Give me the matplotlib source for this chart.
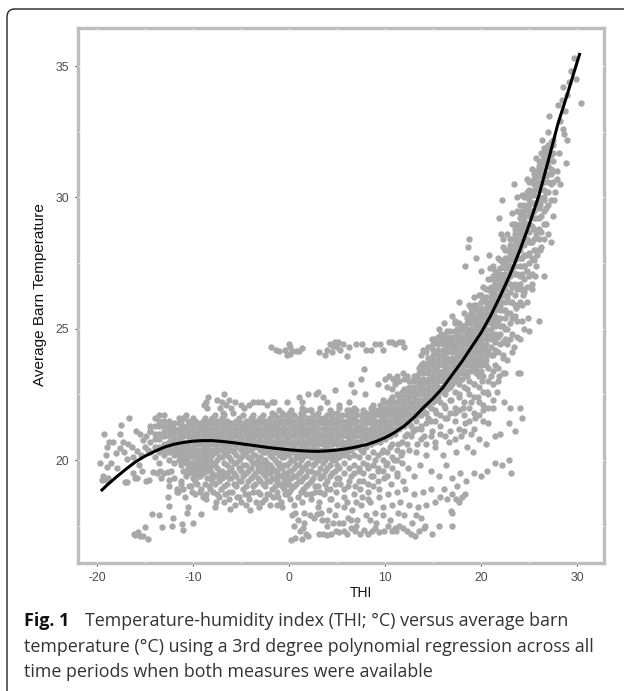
import matplotlib
matplotlib.use("Agg")
import matplotlib.pyplot as plt
from matplotlib.patches import FancyBboxPatch

W, H = 624, 691
POINT_COLOR = "#a8a8a8"
FRAME_COLOR = "#bdbdbd"

# THI column -> barn temperatures, dense band of the cloud
band_thi = [-14.5, -14, -13.5, -13, -12.5, -12, -11.5, -11, -10.5, -10, -9.5, -9, -8.5, -8, -7.5, -7, -6.5, -6,
            -5.5, -5, -4.5, -4, -3.5, -3, -2.5, -2, -1.5, -1, -0.5, 0, 0.5, 1, 1.5, 2, 2.5, 3, 3.5, 4, 4.5, 5]
band_temp = [
    [20.3, 20.7, 21.1, 21.3],
    [20.1, 20.5, 20.8, 21.0, 21.3, 21.6],
    [19.9, 20.3, 20.5, 20.8, 21.0, 21.3, 21.5, 21.7],
    [20.2, 20.4, 20.6, 20.9, 21.1, 21.3, 21.5, 21.7],
    [20.0, 20.3, 20.5, 20.7, 20.9, 21.1, 21.3, 21.5],
    [19.9, 20.2, 20.4, 20.6, 20.8, 21.0, 21.2, 21.4],
    [20.0, 20.2, 20.4, 20.6, 20.8, 21.0, 21.2, 21.4, 21.6],
    [19.6, 19.9, 20.1, 20.3, 20.5, 20.7, 20.9, 21.1, 21.3, 21.6],
    [19.5, 19.7, 19.9, 20.1, 20.3, 20.5, 20.7, 20.9, 21.1, 21.3, 21.5],
    [19.3, 19.5, 19.7, 19.9, 20.1, 20.3, 20.5, 20.7, 20.9, 21.1, 21.3, 21.6],
    [19.4, 19.6, 19.8, 20.0, 20.2, 20.4, 20.6, 20.8, 21.0, 21.2, 21.4],
    [19.5, 19.7, 19.9, 20.1, 20.3, 20.5, 20.7, 20.9, 21.1, 21.3, 21.5],
    [19.3, 19.6, 19.8, 20.1, 20.3, 20.5, 20.7, 20.9, 21.1, 21.3, 21.5],
    [19.2, 19.5, 19.9, 20.2, 20.4, 20.6, 20.8, 21.0, 21.2, 21.4, 21.6],
    [19.4, 19.7, 20.0, 20.3, 20.5, 20.7, 20.9, 21.1, 21.3, 21.5],
    [19.3, 19.6, 20.1, 20.4, 20.6, 20.8, 21.0, 21.2, 21.4, 21.6],
    [19.1, 19.5, 19.8, 20.3, 20.5, 20.7, 20.9, 21.1, 21.3, 21.5],
    [19.3, 19.7, 20.0, 20.4, 20.6, 20.8, 21.0, 21.2, 21.4],
    [19.0, 19.4, 19.9, 20.2, 20.5, 20.7, 20.9, 21.1, 21.3, 21.5],
    [19.2, 19.6, 20.1, 20.4, 20.6, 20.8, 21.0, 21.2, 21.4],
    [19.0, 19.5, 19.8, 20.3, 20.5, 20.7, 20.9, 21.1, 21.3, 21.5],
    [19.3, 19.7, 20.0, 20.4, 20.6, 20.8, 21.0, 21.2, 21.4, 21.6],
    [19.1, 19.5, 19.9, 20.2, 20.5, 20.7, 20.9, 21.1, 21.3, 21.5],
    [19.2, 19.6, 19.8, 20.1, 20.4, 20.6, 20.8, 21.0, 21.2, 21.4, 21.6],
    [19.0, 19.4, 19.7, 20.0, 20.3, 20.5, 20.7, 20.9, 21.1, 21.3, 21.5],
    [19.2, 19.5, 19.8, 20.2, 20.4, 20.6, 20.8, 21.0, 21.2, 21.4, 21.6],
    [19.0, 19.3, 19.6, 20.0, 20.3, 20.5, 20.7, 20.9, 21.1, 21.3, 21.5, 21.7],
    [19.1, 19.4, 19.7, 19.9, 20.2, 20.4, 20.6, 20.8, 21.0, 21.2, 21.4, 21.6],
    [18.9, 19.2, 19.5, 19.8, 20.1, 20.3, 20.5, 20.7, 20.9, 21.1, 21.3, 21.5, 21.7],
    [18.8, 19.1, 19.3, 19.6, 19.9, 20.2, 20.4, 20.6, 20.8, 21.0, 21.2, 21.4, 21.6, 21.8],
    [19.0, 19.4, 19.7, 20.0, 20.3, 20.5, 20.7, 20.9, 21.1, 21.3, 21.5, 21.7],
    [19.2, 19.5, 19.8, 20.2, 20.4, 20.6, 20.8, 21.0, 21.2, 21.4, 21.6],
    [18.9, 19.3, 19.7, 20.1, 20.3, 20.5, 20.7, 20.9, 21.1, 21.3, 21.5, 21.7],
    [19.1, 19.6, 19.9, 20.2, 20.4, 20.6, 20.8, 21.0, 21.2, 21.4, 21.6],
    [19.3, 19.8, 20.1, 20.3, 20.5, 20.7, 20.9, 21.1, 21.3, 21.5, 21.7],
    [19.0, 19.5, 20.0, 20.2, 20.4, 20.6, 20.8, 21.0, 21.2, 21.4, 21.6, 21.8],
    [19.4, 19.9, 20.2, 20.4, 20.6, 20.8, 21.0, 21.2, 21.4, 21.6],
    [19.2, 19.7, 20.1, 20.3, 20.5, 20.7, 20.9, 21.1, 21.3, 21.5, 21.7],
    [19.5, 20.0, 20.2, 20.4, 20.6, 20.8, 21.0, 21.2, 21.4, 21.6, 21.8],
    [19.3, 19.8, 20.2, 20.4, 20.6, 20.8, 21.0, 21.2, 21.4, 21.6, 21.8],
]

# staggered columns filling the lower part of the band
fill_thi = [-11.25, -10.75, -10.25, -9.75, -9.25, -8.75, -8.25, -7.75, -7.25, -6.75, -6.25, -5.75, -5.25, -4.75, -4.25, -3.75,
            -3.25, -2.75, -2.25, -1.75, -1.25, -0.75, -0.25, 0.25, 0.75, 1.25, 1.75, 2.25, 2.75, 3.25, 3.75, 4.25, 4.75,
            5.25, 5.75, 6.25, 6.75, 7.25, 7.75, 8.25, 8.75, 9.25, 9.75, 10.25, 10.75, 11.25, 11.75]
fill_temp = [
    [19.1, 19.8, 20.2, 21.5], [19.4, 20.0, 20.4, 21.7], [19.0, 19.6, 19.9, 20.3], [19.2, 19.5, 19.8, 20.2, 21.5],
    [18.8, 19.4, 19.7, 20.1], [19.1, 19.6, 20.0, 20.3, 21.6], [18.9, 19.3, 19.7, 20.0], [19.1, 19.4, 19.8, 20.3, 21.7],
    [18.6, 19.2, 19.5, 20.1], [19.0, 19.4, 19.9, 20.2, 21.7], [18.8, 19.3, 19.6, 20.1], [19.1, 19.5, 19.9, 20.3],
    [18.6, 19.2, 19.7, 20.0, 21.6], [18.9, 19.4, 19.8, 20.2], [18.7, 19.2, 19.6, 20.1], [19.0, 19.4, 19.9, 20.2, 21.7],
    [18.8, 19.3, 19.7, 20.0], [19.1, 19.5, 19.9, 20.3, 21.7], [18.7, 19.2, 19.6, 19.9], [18.9, 19.3, 19.7, 20.1, 21.8],
    [18.8, 19.2, 19.5, 19.9], [19.0, 19.4, 19.7, 20.1, 21.8], [18.7, 19.1, 19.4, 19.8], [18.9, 19.3, 19.6, 20.0, 21.9],
    [19.1, 19.4, 19.8, 20.1], [18.8, 19.2, 19.6, 20.0, 21.8], [19.0, 19.4, 19.8, 20.2], [18.7, 19.2, 19.6, 20.1, 21.9],
    [19.0, 19.5, 19.9, 20.2], [18.8, 19.3, 19.7, 20.1, 22.0], [19.1, 19.6, 20.0, 20.3], [18.9, 19.4, 19.8, 20.2, 21.9],
    [19.1, 19.6, 20.0, 20.3], [19.3, 19.7, 20.1, 22.0], [18.9, 19.5, 19.9, 20.2], [19.2, 19.7, 20.1, 21.9],
    [19.5, 19.8, 20.2, 22.0], [19.2, 19.7, 20.1], [19.5, 19.9, 20.3, 21.9], [19.1, 19.7, 20.1], [19.4, 19.8, 20.3, 22.1],
    [19.2, 19.7, 20.2], [19.6, 20.0, 20.4, 22.3], [19.4, 19.9, 20.3], [19.7, 20.1, 20.6, 22.4], [19.5, 20.0, 20.4, 22.5],
    [19.9, 20.3, 20.7, 22.6],
]

# staggered columns across the solid upper part of the band, so that no lattice shows
solid_thi = [-12.75, -12.25, -11.75, -10.75, -10.25, -9.75, -9.25, -8.75, -8.25, -7.75, -7.25, -6.75, -6.25, -5.75, -5.25, -4.75,
             -4.25, -3.75, -3.25, -2.75, -2.25, -1.75, -1.25, -0.75, -0.25, 0.25, 0.75, 1.25, 1.75, 2.25, 2.75, 3.25, 3.75,
             4.25, 4.75, 5.25, 5.75, 6.25, 6.75, 7.25, 7.75, 8.25, 8.75, 9.25, 9.75, 10.25, 10.75, 11.25, 11.75]
solid_temp = [
    [20.6, 21.2], [20.7, 21.3], [20.5, 21.1], [20.6, 21.2], [20.8, 21.4], [20.6, 21.0], [20.7, 21.3], [20.5, 21.1],
    [20.8, 21.4], [20.6, 21.2], [20.7, 21.1], [20.5, 21.3], [20.8, 21.2], [20.6, 21.4], [20.7, 21.1], [20.5, 21.3],
    [20.8, 21.2], [20.6, 21.0], [20.7, 21.4], [20.5, 21.1], [20.8, 21.3], [20.6, 21.2], [20.7, 21.4], [20.5, 21.1],
    [20.8, 21.5], [20.6, 21.2], [20.7, 21.4], [20.9, 21.3], [20.6, 21.1], [20.8, 21.5], [20.7, 21.2], [20.9, 21.4],
    [20.6, 21.1], [20.8, 21.5], [20.7, 21.3], [20.9, 21.5], [20.6, 21.2], [20.8, 21.4], [21.0, 21.6], [20.7, 21.2],
    [20.9, 21.5], [21.1, 21.6], [20.9, 21.3], [21.2, 21.8], [21.0, 21.6], [21.3, 21.9], [21.1, 21.7], [21.4, 22.0],
    [21.6, 22.1],
]

# rising part of the cloud, THI 5.5 to 27.5
rise_thi = [5.5, 6, 6.5, 7, 7.5, 8, 8.5, 9, 9.5, 10, 10.5, 11, 11.5, 12, 12.5, 13, 13.5, 14, 14.5, 15, 15.5, 16, 16.5,
            17, 17.5, 18, 18.5, 19, 19.5, 20, 20.5, 21, 21.5, 22, 22.5, 23, 23.5, 24, 24.5, 25, 25.5, 26, 26.5, 27, 27.5]
rise_temp = [
    [20.3, 20.5, 20.7, 20.9, 21.1, 21.3, 21.5, 21.7],
    [20.3, 20.5, 20.7, 20.9, 21.1, 21.3, 21.5, 21.7, 21.9],
    [20.4, 20.6, 20.8, 21.0, 21.2, 21.4, 21.6, 21.8],
    [20.5, 20.7, 20.9, 21.1, 21.3, 21.5, 21.7, 21.9],
    [20.4, 20.7, 20.9, 21.1, 21.3, 21.5, 21.7],
    [20.5, 20.8, 21.0, 21.2, 21.4, 21.6, 21.8],
    [20.6, 20.8, 21.0, 21.2, 21.4, 21.6, 21.8, 22.0],
    [20.7, 20.9, 21.1, 21.3, 21.5, 21.7, 21.9],
    [20.7, 20.9, 21.1, 21.3, 21.5, 21.7, 21.9, 22.1],
    [20.8, 21.0, 21.2, 21.4, 21.6, 21.8, 22.0, 22.2],
    [20.9, 21.1, 21.3, 21.5, 21.7, 21.9, 22.1, 22.3],
    [21.0, 21.2, 21.4, 21.6, 21.8, 22.0, 22.2, 22.9, 23.1],
    [21.2, 21.4, 21.6, 21.8, 22.0, 22.2, 22.4, 23.0],
    [21.3, 21.5, 21.7, 21.9, 22.1, 22.3, 22.5, 22.7, 23.1],
    [21.4, 21.6, 21.8, 22.0, 22.2, 22.4, 22.6, 22.8, 23.0],
    [21.6, 21.8, 22.0, 22.2, 22.4, 22.6, 22.8, 23.0, 23.2],
    [21.7, 21.9, 22.1, 22.3, 22.5, 22.7, 22.9, 23.1, 23.3, 23.5],
    [21.9, 22.1, 22.3, 22.5, 22.7, 22.9, 23.1, 23.3, 23.5, 23.7, 24.2],
    [22.1, 22.3, 22.5, 22.7, 22.9, 23.1, 23.3, 23.5, 23.7, 23.9, 24.3],
    [22.2, 22.4, 22.6, 22.8, 23.0, 23.2, 23.4, 23.6, 23.8, 24.0, 24.2, 24.4],
    [22.4, 22.6, 22.8, 23.0, 23.2, 23.4, 23.6, 23.8, 24.0, 24.2, 24.4],
    [22.6, 22.8, 23.0, 23.2, 23.4, 23.6, 23.8, 24.0, 24.2, 24.4, 24.6],
    [22.7, 22.9, 23.1, 23.3, 23.5, 23.7, 23.9, 24.1, 24.3, 24.5, 24.7],
    [22.9, 23.1, 23.3, 23.5, 23.7, 23.9, 24.1, 24.3, 24.5, 24.7],
    [23.0, 23.2, 23.4, 23.6, 23.8, 24.0, 24.2, 24.4, 24.6, 24.8, 25.0],
    [23.1, 23.3, 23.5, 23.7, 23.9, 24.1, 24.3, 24.5, 24.7, 24.9, 25.1],
    [23.2, 23.4, 23.6, 23.8, 24.0, 24.2, 24.4, 24.6, 24.8, 25.0, 25.2, 25.4],
    [23.4, 23.6, 23.8, 24.0, 24.2, 24.4, 24.6, 24.8, 25.0, 25.2, 25.4, 25.6, 25.8],
    [23.3, 23.5, 23.7, 23.9, 24.1, 24.3, 24.5, 24.7, 24.9, 25.1, 25.3, 25.5, 25.7, 25.9],
    [23.4, 23.6, 23.8, 24.0, 24.2, 24.4, 24.6, 24.8, 25.0, 25.2, 25.4, 25.6, 25.8, 26.0, 26.3],
    [23.6, 23.8, 24.0, 24.2, 24.4, 24.6, 24.8, 25.0, 25.2, 25.4, 25.6, 25.8, 26.0, 26.2, 26.5],
    [24.0, 24.3, 24.6, 24.8, 25.0, 25.2, 25.4, 25.6, 25.8, 26.0, 26.2, 26.4, 26.6, 26.9],
    [24.2, 24.5, 24.8, 25.1, 25.3, 25.5, 25.7, 25.9, 26.1, 26.3, 26.5, 26.7, 26.9, 27.2],
    [24.4, 24.8, 25.1, 25.4, 25.7, 25.9, 26.1, 26.3, 26.5, 26.7, 26.9, 27.1, 27.3, 27.6],
    [24.6, 25.0, 25.4, 25.7, 26.0, 26.3, 26.5, 26.7, 26.9, 27.1, 27.3, 27.5, 27.7, 28.0],
    [25.2, 25.6, 26.0, 26.4, 26.7, 27.0, 27.2, 27.4, 27.6, 27.8, 28.0, 28.2, 28.4],
    [25.5, 25.9, 26.3, 26.7, 27.1, 27.4, 27.6, 27.8, 28.0, 28.2, 28.4, 28.6, 28.8, 29.0],
    [26.0, 26.5, 27.0, 27.4, 27.7, 28.0, 28.2, 28.4, 28.6, 28.8, 29.0, 29.2, 29.4, 29.7],
    [26.4, 26.9, 27.4, 27.8, 28.2, 28.5, 28.7, 28.9, 29.1, 29.3, 29.5, 29.7, 30.0],
    [27.0, 27.5, 27.9, 28.3, 28.7, 29.0, 29.3, 29.5, 29.7, 29.9, 30.1, 30.3, 30.6],
    [27.6, 28.0, 28.4, 28.8, 29.2, 29.5, 29.8, 30.1, 30.3, 30.5, 30.7, 30.9],
    [28.4, 28.8, 29.2, 29.6, 30.0, 30.3, 30.6, 30.8, 31.0, 31.2, 31.4],
    [29.0, 29.5, 29.9, 30.3, 30.6, 30.9, 31.1, 31.3, 31.5, 31.7, 31.9],
    [29.7, 30.2, 30.6, 30.9, 31.2, 31.4, 31.6, 31.8, 32.0],
    [30.6, 31.0, 31.4, 31.7, 32.0, 32.2],
]

# staggered columns that widen the rising part
rise_fill_thi = [12.25, 12.75, 13.25, 13.75, 14.25, 14.75, 15.25, 15.75, 16.25, 16.75, 17.25, 17.75, 18.25, 18.75, 19.25, 19.75,
                 20.25, 20.75, 21.25, 21.75, 22.25, 22.75, 23.25, 23.75, 24.25, 24.75, 25.25, 25.75, 26.25, 26.75, 27.25]
rise_fill_temp = [
    [20.6, 21.0, 21.4, 21.9, 22.4, 23.2], [20.9, 21.3, 21.7, 22.1, 22.6, 23.0], [20.3, 21.2, 21.5, 22.0, 22.5, 23.2],
    [20.8, 21.2, 21.7, 22.2, 22.8, 23.6, 24.0], [20.6, 21.4, 21.8, 22.4, 23.0, 23.6, 24.1],
    [20.9, 21.5, 22.0, 22.5, 23.1, 23.7, 24.3], [20.7, 21.5, 21.9, 22.3, 22.9, 23.5, 24.1, 24.6],
    [21.0, 21.7, 22.2, 22.7, 23.3, 23.9, 24.5], [20.9, 21.6, 22.0, 22.5, 23.0, 23.6, 24.2, 24.8],
    [21.1, 21.8, 22.3, 22.8, 23.2, 23.8, 24.4, 24.9], [20.8, 21.5, 22.0, 22.6, 23.1, 23.7, 24.3, 24.9, 25.3],
    [21.2, 21.9, 22.4, 22.9, 23.4, 24.0, 24.6, 25.2], [21.1, 21.7, 22.2, 22.8, 23.3, 23.9, 24.5, 25.1, 25.6],
    [21.5, 22.0, 22.5, 23.0, 23.6, 24.2, 24.9, 25.5, 25.9], [21.2, 21.8, 22.4, 22.9, 23.5, 24.1, 24.7, 25.3, 25.9, 26.2],
    [21.7, 22.2, 22.8, 23.2, 23.8, 24.5, 25.1, 25.7, 26.3], [21.5, 22.1, 22.6, 23.2, 23.7, 24.3, 24.9, 25.5, 26.1, 26.6],
    [22.0, 22.5, 23.0, 23.5, 24.1, 24.7, 25.3, 25.9, 26.5, 26.9], [22.3, 22.9, 23.4, 24.0, 24.6, 25.2, 25.8, 26.4, 27.0, 27.4],
    [23.0, 23.5, 24.1, 24.7, 25.3, 25.9, 26.5, 27.1, 27.7], [23.3, 23.9, 24.5, 25.1, 25.7, 26.3, 26.9, 27.5, 28.1, 28.4],
    [23.8, 24.4, 25.0, 25.6, 26.2, 26.8, 27.4, 28.0, 28.6], [24.1, 24.8, 25.4, 26.0, 26.6, 27.2, 27.8, 28.4, 29.0, 29.4],
    [24.7, 25.3, 25.9, 26.5, 27.1, 27.7, 28.3, 28.9, 29.5, 30.0], [25.3, 25.9, 26.5, 27.1, 27.7, 28.3, 28.9, 29.5, 30.1],
    [26.0, 26.6, 27.2, 27.8, 28.4, 29.0, 29.6, 30.2, 30.7], [26.5, 27.1, 27.7, 28.3, 28.9, 29.5, 30.1, 30.6, 31.1],
    [27.4, 28.0, 28.6, 29.2, 29.8, 30.4, 31.0, 31.5], [28.1, 28.7, 29.3, 29.9, 30.5, 31.1, 31.7],
    [29.0, 29.6, 30.2, 30.8, 31.4, 31.9], [29.9, 30.5, 31.1, 31.6, 32.1],
]

left_tail = [(-19.3, 21.0), (-16.7, 21.6), (-17.5, 21.35), (-19.7, 19.9), (-19.0, 20.5), (-18.3, 20.7), (-17.6, 20.45),
             (-18.0, 20.25), (-19.1, 20.2), (-19.0, 19.75), (-19.5, 19.25), (-19.1, 19.25), (-17.1, 19.15), (-16.0, 19.3),
             (-14.9, 19.2), (-13.8, 19.5), (-13.0, 19.5), (-16.2, 20.1), (-16.8, 20.6), (-15.9, 21.1), (-17.6, 21.0),
             (-16.9, 20.05), (-15.6, 19.8), (-15.2, 20.75), (-14.5, 21.1), (-18.7, 20.7), (-17.3, 20.7), (-17.2, 20.3),
             (-16.4, 20.5), (-15.8, 20.35), (-15.4, 20.2), (-15.0, 20.5), (-15.5, 21.0), (-19.4, 19.4), (-18.9, 19.3),
             (-16.9, 19.15), (-16.2, 19.5), (-15.8, 19.3), (-14.6, 19.25), (-14.2, 19.55), (-13.4, 19.6), (-12.6, 19.55),
             (-13.3, 19.3), (-12.5, 19.25), (-18.5, 19.9), (-17.9, 19.7), (-14.9, 20.9), (-14.7, 20.4), (-15.3, 19.6)]
upper_shelf = [(-8.7, 22.2), (-8.4, 22.4), (-8.9, 22.1), (-8.5, 22.0), (-6.8, 22.5), (-6.6, 22.1), (-7.2, 22.0),
               (-7.5, 22.3), (-7.0, 22.2), (-6.3, 22.3), (-6.0, 22.0), (-5.6, 22.2), (-5.0, 22.1), (-4.7, 22.0),
               (-4.2, 22.1), (-3.8, 22.2), (-3.2, 22.2), (-2.8, 22.2), (-2.3, 22.1), (-1.8, 22.2), (-1.6, 22.2),
               (-0.2, 22.2), (1.0, 22.4), (2.0, 22.5), (2.8, 22.5), (1.3, 22.0), (2.2, 21.9), (-1.0, 21.9), (3.0, 22.6),
               (-6.9, 21.8), (-5.8, 21.8), (-4.8, 21.7), (1.4, 22.2), (1.7, 21.9), (4.8, 22.65), (5.2, 22.1), (6.4, 22.9),
               (6.8, 22.6), (7.9, 22.5), (7.8, 23.45), (7.5, 23.1), (9.3, 22.9), (10.0, 23.1), (10.4, 23.2), (10.8, 23.1),
               (11.2, 23.2), (10.2, 22.8), (10.7, 22.7), (11.9, 23.3), (6.2, 22.2), (3.5, 22.4), (4.0, 22.2)]
top_cluster = [(-1.9, 24.3), (-1.4, 24.2), (-1.0, 24.15), (-0.4, 24.2), (0.1, 24.3), (0.1, 24.05), (0.3, 24.15), (0.7, 24.15),
               (1.0, 24.15), (1.4, 24.25), (3.7, 24.0), (4.0, 24.2), (4.3, 24.4), (4.5, 24.1), (4.8, 24.5), (5.0, 24.3),
               (5.3, 24.2), (5.6, 24.4), (6.0, 23.95), (6.2, 24.3), (7.0, 24.4), (7.6, 24.4), (8.0, 24.2), (8.5, 24.2),
               (9.0, 24.4), (9.5, 24.4), (9.8, 24.2), (10.4, 24.5), (10.7, 24.5), (11.0, 24.4), (11.5, 24.5), (11.8, 24.5),
               (12.0, 24.3), (-0.2, 24.0), (0.0, 24.4), (4.6, 24.35), (5.1, 24.5), (3.1, 24.1)]
upper_tail = [(18.7, 28.4), (18.6, 28.1), (18.3, 27.4), (19.5, 27.7), (20.0, 27.2), (20.8, 27.8), (20.9, 27.3), (21.2, 26.6),
              (21.9, 29.2), (22.2, 29.9), (22.1, 28.6), (23.4, 30.5), (25.5, 30.7), (26.4, 31.6), (26.3, 32.2), (27.1, 33.1),
              (27.0, 32.5), (28.0, 33.5), (28.4, 33.7), (28.9, 33.9), (29.2, 34.4), (29.4, 34.8), (29.7, 35.3), (29.9, 34.5),
              (30.4, 33.6), (28.5, 34.2), (28.7, 33.3), (28.2, 32.9), (28.5, 32.6), (28.9, 32.2), (28.8, 31.3), (28.2, 30.5),
              (27.7, 30.2), (27.9, 31.0), (28.1, 31.7), (28.6, 32.4), (27.6, 29.9), (27.5, 29.3), (27.0, 28.6), (27.3, 28.3),
              (26.6, 28.4), (26.1, 28.0), (25.6, 27.0), (25.3, 26.7), (25.8, 27.8), (24.5, 25.0), (24.9, 25.4), (24.4, 26.3),
              (23.6, 25.8), (24.0, 24.6), (23.4, 24.3), (25.0, 24.9), (26.0, 25.3), (26.6, 27.0), (17.7, 26.0), (17.3, 25.2),
              (17.0, 25.5), (16.5, 24.9), (16.1, 25.2), (15.8, 24.8), (16.3, 24.7), (16.9, 24.6), (15.6, 25.0), (15.5, 24.7),
              (14.9, 24.6), (24.0, 26.7), (24.5, 27.4), (25.2, 28.3), (26.1, 29.7), (26.6, 30.0), (27.3, 30.9), (27.9, 30.7)]
mid_cloud = [(-12.3, 19.6), (-12.0, 19.3), (-11.7, 18.9), (-11.3, 19.2), (-11.0, 18.9), (-10.8, 18.6), (-10.4, 19.0), (-10.1, 18.8),
             (-11.6, 18.8), (-12.5, 19.0), (-9.8, 18.7), (-9.6, 19.1), (-9.2, 18.9), (-9.0, 18.6), (-8.6, 18.7), (-8.3, 19.0),
             (-7.9, 18.8), (-7.5, 18.7), (-7.1, 18.9), (-6.7, 18.7), (-6.3, 18.5), (-5.9, 18.8), (-5.4, 18.6), (-5.0, 18.4),
             (-4.6, 18.7), (-4.2, 18.5), (-3.8, 18.8), (-3.4, 18.4), (-3.0, 18.7), (-2.5, 18.5), (-2.1, 18.7), (-1.7, 18.6),
             (-1.2, 18.6), (-0.8, 18.4), (-0.4, 18.7), (0.1, 18.5), (0.5, 18.3), (0.9, 18.6), (1.3, 18.4), (1.8, 18.7),
             (2.3, 18.5), (2.7, 18.8), (3.1, 18.4), (3.6, 18.7), (4.0, 18.9), (4.4, 18.5), (4.9, 18.8), (5.3, 19.1),
             (5.7, 18.6), (6.1, 19.0), (6.5, 19.4), (6.9, 19.0), (7.3, 19.6), (7.7, 19.2), (8.1, 19.8), (8.5, 19.4),
             (8.9, 20.0), (9.3, 19.6), (9.7, 20.3), (10.1, 19.8), (10.5, 20.5), (10.9, 20.0), (11.3, 20.6), (11.7, 20.2),
             (12.1, 20.9), (12.5, 20.4), (12.9, 21.1), (13.3, 20.6), (13.7, 21.3), (14.1, 20.9), (14.5, 21.6), (14.9, 21.1),
             (15.3, 21.8), (15.7, 21.3), (16.1, 22.1), (16.5, 21.6), (16.9, 22.3), (17.3, 21.8), (17.7, 22.5), (18.1, 22.0),
             (18.5, 22.7), (18.9, 22.2), (19.3, 22.9), (19.7, 22.4), (20.1, 23.0), (20.6, 22.6), (21.0, 23.2), (21.5, 23.6),
             (21.9, 23.2), (22.3, 24.0), (22.5, 23.3), (23.0, 24.6), (18.3, 21.4), (18.9, 21.0), (19.4, 21.6), (20.2, 21.9),
             (20.7, 21.4), (21.2, 22.0), (21.7, 22.6), (22.4, 22.2), (23.0, 22.0), (23.8, 23.3), (24.0, 23.3), (22.9, 21.4),
             (23.5, 21.1), (24.3, 21.6), (24.0, 22.0), (15.2, 20.5), (16.0, 20.2), (16.7, 20.7), (17.4, 20.3), (17.9, 20.9),
             (18.5, 20.5), (19.2, 20.3), (19.8, 20.8), (20.5, 20.6), (21.4, 20.9), (22.0, 21.0), (13.6, 19.8), (14.3, 20.2),
             (14.8, 19.6), (15.6, 19.4), (16.3, 19.8), (17.0, 19.3), (17.8, 19.5), (18.4, 19.2), (19.3, 19.5), (20.0, 19.4),
             (20.6, 19.6), (21.4, 19.9), (22.2, 19.8), (22.9, 20.0), (23.1, 19.5), (13.0, 19.4), (12.4, 19.7), (11.9, 19.2),
             (11.2, 19.4), (10.6, 19.1), (9.9, 19.3), (9.4, 18.9), (8.7, 19.0), (8.2, 18.8), (7.6, 18.6), (7.0, 18.4)]
low_cloud = [(0.3, 17.9), (0.5, 17.5), (0.9, 17.7), (1.1, 17.3), (1.5, 17.4), (1.8, 17.2), (1.3, 17.0), (0.6, 17.05), (0.2, 16.95),
             (1.6, 17.6), (2.0, 17.1), (2.2, 17.9), (1.6, 18.0), (2.6, 17.8), (2.9, 17.95), (3.0, 18.2), (3.3, 18.0), (3.9, 17.7),
             (4.2, 18.1), (4.8, 17.9), (5.2, 17.6), (5.7, 18.2), (6.1, 17.8), (6.6, 18.1), (7.1, 17.7), (7.5, 18.3),
             (8.0, 17.9), (8.4, 18.4), (8.9, 18.0), (9.4, 18.6), (9.8, 18.2), (10.3, 18.7), (10.7, 18.3), (11.2, 18.8),
             (11.6, 18.4), (12.1, 18.9), (12.5, 18.3), (13.0, 18.7), (13.4, 18.2), (13.9, 18.8), (14.3, 18.3), (14.8, 18.9),
             (15.2, 18.4), (15.7, 18.6), (16.1, 18.9), (16.5, 18.5), (17.0, 18.7), (17.5, 19.0), (18.0, 18.6), (18.3, 18.7),
             (17.4, 18.5), (17.7, 18.4), (17.0, 18.0), (16.9, 18.05), (4.3, 18.5), (5.0, 18.3), (6.0, 18.4), (6.8, 18.7),
             (7.4, 18.9), (8.2, 18.5), (9.1, 17.6), (9.8, 17.9), (10.5, 17.7), (11.0, 17.4), (11.3, 18.0), (12.0, 17.9),
             (12.8, 17.6), (13.2, 17.9), (13.7, 17.8), (14.2, 17.5), (3.1, 17.2), (3.5, 17.2), (3.9, 17.15), (4.4, 17.2),
             (4.9, 17.3), (5.2, 17.25), (5.7, 17.3), (6.0, 17.2), (6.4, 17.4), (6.9, 17.3), (7.4, 17.2), (7.8, 17.35),
             (8.2, 17.2), (8.6, 17.3), (9.0, 17.4), (9.4, 17.25), (9.9, 17.3), (10.3, 17.5), (10.7, 17.3), (11.1, 17.3),
             (11.5, 17.5), (11.9, 17.4), (12.3, 17.3), (12.7, 17.2), (13.1, 17.1), (13.5, 17.3), (14.1, 17.4), (14.9, 17.2),
             (15.6, 17.5), (17.0, 17.5), (3.4, 17.7), (4.0, 17.5), (4.6, 17.6), (5.6, 17.6), (6.4, 17.7), (7.0, 17.5),
             (8.4, 17.7), (-8.7, 18.5), (-7.6, 18.4), (-6.8, 18.4), (-5.6, 18.3), (-4.5, 18.3), (-4.1, 18.1), (-3.1, 18.2),
             (-2.8, 18.4), (-2.0, 18.3), (-1.3, 18.3), (-0.7, 18.2), (0.6, 18.0), (-10.5, 18.2), (-10.6, 18.0), (-12.5, 18.25),
             (-12.6, 18.6), (-11.7, 18.8), (-16.1, 17.2), (-15.7, 17.25), (-15.2, 17.1), (-14.7, 17.0), (-15.0, 17.45),
             (-14.3, 17.95), (-13.5, 17.9), (-13.2, 17.45), (-12.2, 17.5), (-12.1, 17.8), (-11.2, 17.55), (-11.0, 17.35),
             (-10.0, 17.6), (-9.2, 17.95), (-7.7, 18.2), (-6.1, 18.15), (-15.5, 17.1), (-16.0, 17.15)]

curve_thi = [-19.6, -19, -18, -17, -16, -15, -14, -13, -12, -11, -10, -9, -8, -7, -6, -5, -4, -3, -2, -1, 0, 1, 2, 3, 4, 5, 6, 7, 8, 9, 10,
             11, 12, 13, 14, 15, 16, 17, 18, 19, 20, 21, 22, 23, 24, 25, 26, 27, 28, 29, 30, 30.3]
curve_temp = [18.82, 19.03, 19.35, 19.65, 19.93, 20.15, 20.33, 20.49, 20.6, 20.67, 20.72, 20.74, 20.74, 20.71, 20.67, 20.62, 20.57,
              20.52, 20.47, 20.43, 20.39, 20.36, 20.34, 20.33, 20.35, 20.38, 20.43, 20.5, 20.58, 20.7, 20.85, 21.05, 21.3, 21.62,
              22.0, 22.35, 22.75, 23.25, 23.75, 24.3, 24.85, 25.5, 26.25, 27.05, 27.95, 28.95, 30.05, 31.4, 32.8, 33.95, 35.15, 35.5]

x_ticks = [-20, -10, 0, 10, 20, 30]
y_ticks = [20, 25, 30, 35]
x_minor = [-15, -5, 5, 15, 25]
y_minor = [17.5, 22.5, 27.5, 32.5]
caption_rest = [
    "Temperature-humidity index (THI; °C) versus average barn",
    "temperature (°C) using a 3rd degree polynomial regression across all",
    "time periods when both measures were available",
]

plt.rcParams["font.family"] = ["Liberation Sans", "DejaVu Sans"]
plt.rcParams["axes.unicode_minus"] = False
fig = plt.figure(figsize=(W / 100, H / 100), dpi=100, facecolor="white")

L, R, T, B = 78, 604, 28, 563
ax = fig.add_axes([L / W, 1 - B / H, (R - L) / W, (B - T) / H])
ax.set_xlim(-21.98, 32.8)
ax.set_ylim(16.08, 36.45)

frame = FancyBboxPatch((7 / W, -0.05), 1.1, 1 - 9 / H + 0.05, transform=fig.transFigure,
                       boxstyle="round,pad=0,rounding_size=0.012", fc="none", ec="#222222", lw=1.0, clip_on=False)
fig.add_artist(frame)

pts_x, pts_y = [], []
columns = (list(zip(band_thi, band_temp)) + list(zip(fill_thi, fill_temp)) + list(zip(solid_thi, solid_temp))
           + list(zip(rise_thi, rise_temp)) + list(zip(rise_fill_thi, rise_fill_temp)))
for col_x, col_y in columns:
    for v in col_y:
        pts_x.append(col_x)
        pts_y.append(v)
for group in (left_tail, upper_shelf, top_cluster, upper_tail, mid_cloud, low_cloud):
    for a, b in group:
        pts_x.append(a)
        pts_y.append(b)
ax.scatter(pts_x, pts_y, s=21, color=POINT_COLOR, linewidths=0, zorder=3)
ax.plot(curve_thi, curve_temp, color="black", lw=2.2, zorder=4, solid_capstyle="butt")

for s in ax.spines.values():
    s.set_color(FRAME_COLOR)
    s.set_linewidth(2.4)

ax.set_xticks(x_ticks)
ax.set_yticks(y_ticks)
ax.tick_params(axis="both", length=2.5, width=0.8, color="#444444", labelcolor="#4d4d4d", labelsize=8.8, pad=4)
ax.vlines(x_ticks + x_minor, *ax.get_ylim(), color="white", lw=0.5, zorder=2.7, clip_on=False)
ax.hlines(y_ticks + y_minor, *ax.get_xlim(), color="white", lw=0.5, zorder=2.7, clip_on=False)
ax.set_xlim(-21.98, 32.8)
ax.set_ylim(16.08, 36.45)

fig.text(361 / W, 1 - 593 / H, "THI", ha="center", va="center", fontsize=10, color="#111111")
fig.text(40 / W, 1 - 295 / H, "Average Barn Temperature", rotation=90, ha="center", va="center", fontsize=11, color="#111111")

cap = dict(family=["Open Sans", "DejaVu Sans"], fontsize=12.9, color="#333333", va="baseline")
fig.text(24 / W, 1 - 626 / H, "Fig. 1", fontweight="bold", **{**cap, "color": "#111111"})
fig.text(85 / W, 1 - 626 / H, caption_rest[0], **cap)
fig.text(24 / W, 1 - 652 / H, caption_rest[1], **cap)
fig.text(24 / W, 1 - 677 / H, caption_rest[2], **cap)

fig.savefig("out.png", dpi=100, facecolor="white")
